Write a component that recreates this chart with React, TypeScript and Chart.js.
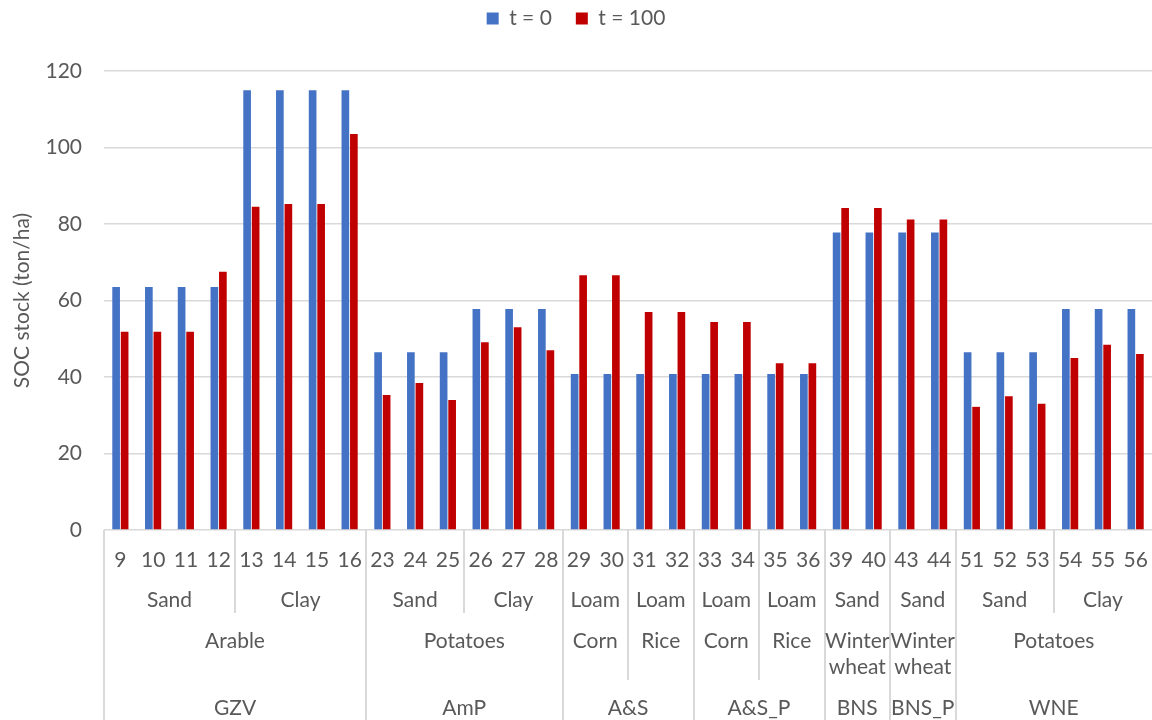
import React, { useEffect, useRef } from "react";
import { Chart, registerables } from "chart.js";

Chart.register(...registerables);

const categories = ["9", "10", "11", "12", "13", "14", "15", "16", "23", "24", "25", "26", "27", "28", "29", "30", "31", "32", "33", "34", "35", "36", "39", "40", "43", "44", "51", "52", "53", "54", "55", "56"];
const t0Values = [63.5, 63.5, 63.5, 63.5, 115, 115, 115, 115, 46.5, 46.5, 46.5, 57.8, 57.8, 57.8, 40.8, 40.8, 40.8, 40.8, 40.8, 40.8, 40.8, 40.8, 77.8, 77.8, 77.8, 77.8, 46.5, 46.5, 46.5, 57.8, 57.8, 57.8];
const t100Values = [51.8, 51.8, 51.8, 67.5, 84.5, 85.2, 85.2, 103.5, 35.3, 38.4, 34.0, 49.1, 53.0, 47.0, 66.6, 66.6, 57.0, 57.0, 54.4, 54.4, 43.6, 43.6, 84.2, 84.2, 81.2, 81.2, 32.2, 35.0, 33.0, 45.0, 48.4, 46.0];

const soilLabels = ["Sand", "Clay", "Sand", "Clay", "Loam", "Loam", "Loam", "Loam", "Sand", "Sand", "Sand", "Clay"];
const soilSpans = [4, 4, 3, 3, 2, 2, 2, 2, 2, 2, 3, 3];
const cropLabels = ["Arable", "Potatoes", "Corn", "Rice", "Corn", "Rice", "Winter\nwheat", "Winter\nwheat", "Potatoes"];
const cropSpans = [8, 6, 2, 2, 2, 2, 2, 2, 6];
const groupLabels = ["GZV", "AmP", "A&S", "A&S_P", "BNS", "BNS_P", "WNE"];
const groupSpans = [8, 6, 4, 4, 2, 2, 6];

const seriesNames = ["t = 0", "t = 100"];
const yMin = 0;
const yMax = 120;
const yStep = 20;
const yTitle = "SOC stock (ton/ha)";

const FONT = "Lato";
const FS = 21;
const TEXT = "#595959";
const LINE = "#d9d9d9";

function cumulative(spans: number[]): number[] {
  const out: number[] = [];
  let s = 0;
  for (const v of spans) {
    out.push(s);
    s += v;
  }
  return out;
}

const multiLevelAxis = {
  id: "multiLevelAxis",
  afterDraw(chart: any) {
    const ctx = chart.ctx as CanvasRenderingContext2D;
    const xs = chart.scales.x;
    const { left, right, bottom } = chart.chartArea;
    const n = categories.length;
    const bx = (b: number) =>
      b === 0 ? left : b === n ? right : (xs.getPixelForValue(b - 1) + xs.getPixelForValue(b)) / 2;
    const rows = [bottom, bottom + 43, bottom + 83, bottom + 150, chart.height];

    const soilStarts = cumulative(soilSpans);
    const cropStarts = cumulative(cropSpans);
    const groupStarts = cumulative(groupSpans);

    ctx.save();
    ctx.strokeStyle = LINE;
    ctx.lineWidth = 2;
    for (let b = 0; b < n; b++) {
      let endY = -1;
      if (b === 0 || groupStarts.includes(b)) endY = rows[4];
      else if (cropStarts.includes(b)) endY = rows[3];
      else if (soilStarts.includes(b)) endY = rows[2];
      if (endY < 0) continue;
      const x = Math.round(bx(b));
      ctx.beginPath();
      ctx.moveTo(x, bottom);
      ctx.lineTo(x, endY);
      ctx.stroke();
    }

    ctx.fillStyle = TEXT;
    ctx.font = `${FS}px ${FONT}`;
    ctx.textAlign = "center";
    ctx.textBaseline = "middle";

    categories.forEach((c, i) => {
      ctx.fillText(c, xs.getPixelForValue(i), bottom + 30);
    });

    const drawLevel = (labels: string[], spans: number[], y: number) => {
      const starts = cumulative(spans);
      labels.forEach((lab, k) => {
        const cx = (bx(starts[k]) + bx(starts[k] + spans[k])) / 2;
        lab.split("\n").forEach((line, li) => {
          ctx.fillText(line, cx, y + li * 26);
        });
      });
    };
    drawLevel(soilLabels, soilSpans, bottom + 70);
    drawLevel(cropLabels, cropSpans, bottom + 111);
    drawLevel(groupLabels, groupSpans, bottom + 178);
    ctx.restore();
  },
};

const legendSpace = {
  id: "legendSpace",
  beforeInit(chart: any) {
    const lg = chart.legend;
    if (!lg) return;
    const orig = lg.fit;
    lg.fit = function () {
      orig.call(this);
      this.height = 87;
    };
  },
};

export default function App() {
  const ref = useRef<HTMLCanvasElement | null>(null);

  useEffect(() => {
    document.body.style.margin = "0";
    const canvas = ref.current;
    if (!canvas) return;
    const chart = new Chart(canvas, {
      type: "bar",
      data: {
        labels: categories,
        datasets: [
          {
            label: seriesNames[0],
            data: t0Values,
            backgroundColor: "#4472C4",
            borderWidth: 0,
            categoryPercentage: 0.52,
            barPercentage: 0.9,
          },
          {
            label: seriesNames[1],
            data: t100Values,
            backgroundColor: "#C00000",
            borderWidth: 0,
            categoryPercentage: 0.52,
            barPercentage: 0.9,
          },
        ],
      },
      options: {
        responsive: false,
        animation: false,
        devicePixelRatio: 1,
        layout: { padding: { top: -16, left: 0, right: 0, bottom: 0 } },
        plugins: {
          legend: {
            position: "top",
            labels: {
              boxWidth: 12,
              boxHeight: 12,
              padding: 24,
              color: TEXT,
              font: { family: FONT, size: FS },
            },
          },
          tooltip: { enabled: false },
        },
        scales: {
          x: {
            grid: { display: false },
            border: { display: false },
            ticks: { display: false },
            afterFit(scale: any) {
              scale.height = 190;
            },
          },
          y: {
            min: yMin,
            max: yMax,
            ticks: {
              stepSize: yStep,
              padding: 22,
              color: TEXT,
              font: { family: FONT, size: FS },
            },
            grid: { color: LINE, lineWidth: 1.5, drawTicks: false },
            border: { display: false },
            title: {
              display: true,
              text: yTitle,
              color: TEXT,
              font: { family: FONT, size: FS },
              padding: { top: 10, bottom: 0 },
            },
            afterFit(scale: any) {
              scale.width = 104;
            },
          },
        },
      },
      plugins: [legendSpace, multiLevelAxis],
    });
    return () => chart.destroy();
  }, []);

  return (
    <canvas
      ref={ref}
      width={1152}
      height={720}
      style={{ display: "block", width: 1152, height: 720 }}
    />
  );
}
